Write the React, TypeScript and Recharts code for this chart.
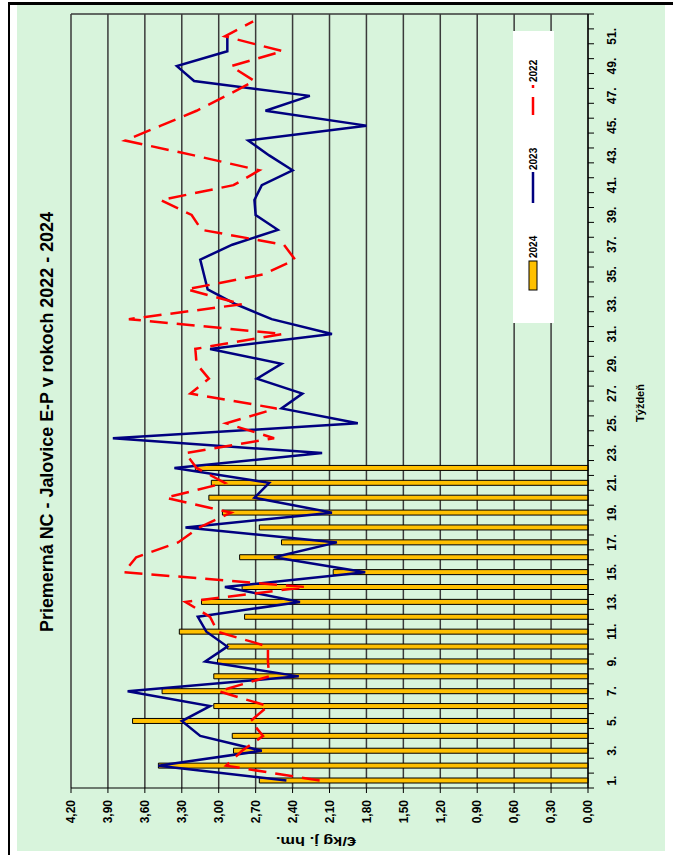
import {
  Bar,
  CartesianGrid,
  ComposedChart,
  Legend,
  Line,
  XAxis,
  YAxis,
} from 'recharts';

// week labels (category axis)
const WEEKS = [
  '1.', '2.', '3.', '4.', '5.', '6.', '7.', '8.', '9.', '10.', '11.', '12.', '13.',
  '14.', '15.', '16.', '17.', '18.', '19.', '20.', '21.', '22.', '23.', '24.', '25.', '26.',
  '27.', '28.', '29.', '30.', '31.', '32.', '33.', '34.', '35.', '36.', '37.', '38.', '39.',
  '40.', '41.', '42.', '43.', '44.', '45.', '46.', '47.', '48.', '49.', '50.', '51.', '52.',
];

// €/kg, weeks 1..22
const Y2024 = [
  2.67, 3.49, 2.88, 2.89, 3.7, 3.04, 3.46, 3.04, 3.01, 2.93, 3.32, 2.79, 3.14, 2.81, 2.07,
  2.83, 2.49, 2.67, 2.97, 3.08, 3.06, 3.19,
];

const Y2023 = [
  2.45, 3.49, 2.65, 3.15, 3.3, 3.07, 3.74, 2.35, 3.11, 2.93, 3.1, 3.17, 2.34, 2.95, 1.81,
  2.55, 2.04, 3.27, 2.08, 2.71, 2.59, 3.36, 2.16, 3.86, 1.87, 2.49, 2.32, 2.69, 2.49, 3.07,
  2.08, 2.57, 2.86, 3.09, 3.12, 3.15, 2.89, 2.52, 2.7, 2.71, 2.65, 2.4, 2.59, 2.76, 1.8,
  2.62, 2.26, 3.2, 3.34, 2.93, 2.93, null,
];

const Y2022 = [
  2.18, 2.94, 2.81, 2.64, 2.74, 2.6, 3.0, 2.59, 2.6, 2.6, 3.01, 3.07, 3.27, 2.29, 3.77,
  3.67, 3.33, 3.16, 2.9, 3.43, 2.95, 3.18, 3.27, 2.55, 2.94, 2.53, 3.23, 3.08, 3.18, 3.19,
  2.48, 3.73, 2.81, 3.26, 2.64, 2.38, 2.47, 3.14, 3.22, 3.47, 2.88, 2.67, 3.2, 3.76, 3.47,
  3.18, 2.94, 2.71, 2.9, 2.48, 2.95, 2.72,
];

const VALUE_TICKS = [0, 0.3, 0.6, 0.9, 1.2, 1.5, 1.8, 2.1, 2.4, 2.7, 3.0, 3.3, 3.6, 3.9, 4.2];

const data = WEEKS.map((w, i) => ({
  week: w,
  y2024: i < Y2024.length ? Y2024[i] : null,
  y2023: Y2023[i],
  y2022: Y2022[i],
}));

const FONT = '"Liberation Sans", Arial, sans-serif';
const GREEN = '#d8f4dc';
const X_TICK_SIZE = 6;
const X_TICK_MARGIN = 13;

// the original chart is drawn 855 wide x 673 high, then turned 90° left
const W = 855;
const H = 673;

const WeekTick = (props: any) => {
  const { x, y, payload, index, width, visibleTicksCount } = props;
  const half =
    payload && payload.offset ? payload.offset : width / (visibleTicksCount || WEEKS.length) / 2;
  const axisY = y - X_TICK_SIZE - X_TICK_MARGIN;
  return (
    <g>
      <line x1={x - half} x2={x - half} y1={axisY} y2={axisY + X_TICK_SIZE} stroke="#000" />
      {index === WEEKS.length - 1 && (
        <line x1={x + half} x2={x + half} y1={axisY} y2={axisY + X_TICK_SIZE} stroke="#000" />
      )}
      {index % 2 === 0 && (
        <text
          x={x}
          y={y}
          dy="0.71em"
          textAnchor="middle"
          fontSize={12}
          fontWeight="bold"
          fill="#000"
        >
          {payload.value}
        </text>
      )}
    </g>
  );
};

const LegendBox = () => (
  <svg width={292} height={41} style={{ display: 'block' }}>
    <rect x={0} y={0} width={292} height={41} fill="#fff" />
    <rect x={33} y={16} width={29} height={8} fill="#ffc000" stroke="#000" strokeWidth={1} />
    <text x={65} y={24} fontSize={10} fontWeight="bold" fill="#000">2024</text>
    <line x1={120} x2={151} y1={20} y2={20} stroke="#000080" strokeWidth={2.5} />
    <text x={153} y={24} fontSize={10} fontWeight="bold" fill="#000">2023</text>
    <line
      x1={208}
      x2={238}
      y1={20}
      y2={20}
      stroke="#ff0000"
      strokeWidth={2.5}
      strokeDasharray="18 9"
    />
    <text x={241} y={24} fontSize={10} fontWeight="bold" fill="#000">2022</text>
  </svg>
);

export default function App() {
  return (
    <div
      style={{
        position: 'absolute',
        left: 0,
        top: 0,
        width: 673,
        height: 855,
        overflow: 'hidden',
        background: '#fff',
        fontFamily: FONT,
      }}
    >
      {/* frame */}
      <div style={{ position: 'absolute', left: 8, top: 2, width: 665, height: 2.5, background: '#000' }} />
      <div style={{ position: 'absolute', left: 7.5, top: 2, width: 2.5, height: 853, background: '#000' }} />
      <div style={{ position: 'absolute', left: 17, top: 5, width: 648, height: 846, background: GREEN }} />

      <div
        style={{
          position: 'absolute',
          left: 0,
          top: 0,
          width: W,
          height: H,
          transformOrigin: '0 0',
          transform: `translateY(${W}px) rotate(-90deg)`,
        }}
      >
        <ComposedChart
          width={W}
          height={H}
          data={data}
          margin={{ top: 71, right: 14, bottom: 35, left: 0 }}
          barCategoryGap={0}
        >
          <CartesianGrid
            stroke="#3a3a3a"
            strokeWidth={1.5}
            vertical
            verticalCoordinatesGenerator={({ offset }: any) => [offset.left + offset.width]}
          />
          <XAxis
            dataKey="week"
            interval={0}
            tickLine={false}
            tickSize={X_TICK_SIZE}
            tickMargin={X_TICK_MARGIN}
            tick={<WeekTick />}
            axisLine={{ stroke: '#000', strokeWidth: 1.2 }}
            height={50}
          />
          <YAxis
            domain={[0, 4.2]}
            ticks={VALUE_TICKS}
            interval={0}
            width={67}
            tickSize={5}
            tickMargin={7}
            tickLine={{ stroke: '#000' }}
            axisLine={{ stroke: '#000', strokeWidth: 1.2 }}
            tick={{ fill: '#000', fontSize: 12, fontWeight: 'bold' }}
            tickFormatter={(v: number) => v.toFixed(2).replace('.', ',')}
          />
          <Legend
            layout="horizontal"
            verticalAlign="middle"
            content={<LegendBox />}
            wrapperStyle={{ left: 532, top: 513, width: 292, height: 41 }}
          />
          <Bar
            dataKey="y2024"
            name="2024"
            fill="#ffc000"
            stroke="#000"
            strokeWidth={1}
            barSize={5}
            isAnimationActive={false}
          />
          <Line
            dataKey="y2023"
            name="2023"
            type="linear"
            stroke="#000080"
            strokeWidth={2.5}
            dot={false}
            isAnimationActive={false}
          />
          <Line
            dataKey="y2022"
            name="2022"
            type="linear"
            stroke="#ff0000"
            strokeWidth={2.5}
            strokeDasharray="18 9"
            dot={false}
            isAnimationActive={false}
          />
        </ComposedChart>

        <svg
          width={W}
          height={H}
          style={{ position: 'absolute', left: 0, top: 0, pointerEvents: 'none' }}
        >
          <text
            x={433}
            y={53}
            textAnchor="middle"
            fontSize={19}
            fontWeight="bold"
            textLength={420}
            lengthAdjust="spacingAndGlyphs"
            fill="#000"
          >
            Priemerná NC - Jalovice E-P v rokoch 2022 - 2024
          </text>
          <text x={452} y={644} textAnchor="middle" fontSize={11} fontWeight="bold" fill="#000">
            Týždeň
          </text>
          <text
            x={18}
            y={316}
            textAnchor="middle"
            fontSize={12}
            fontWeight="bold"
            fill="#000"
            textLength={80}
            lengthAdjust="spacingAndGlyphs"
            transform="rotate(-90, 18, 316)"
          >
            €/kg j. hm.
          </text>
        </svg>
      </div>
    </div>
  );
}
